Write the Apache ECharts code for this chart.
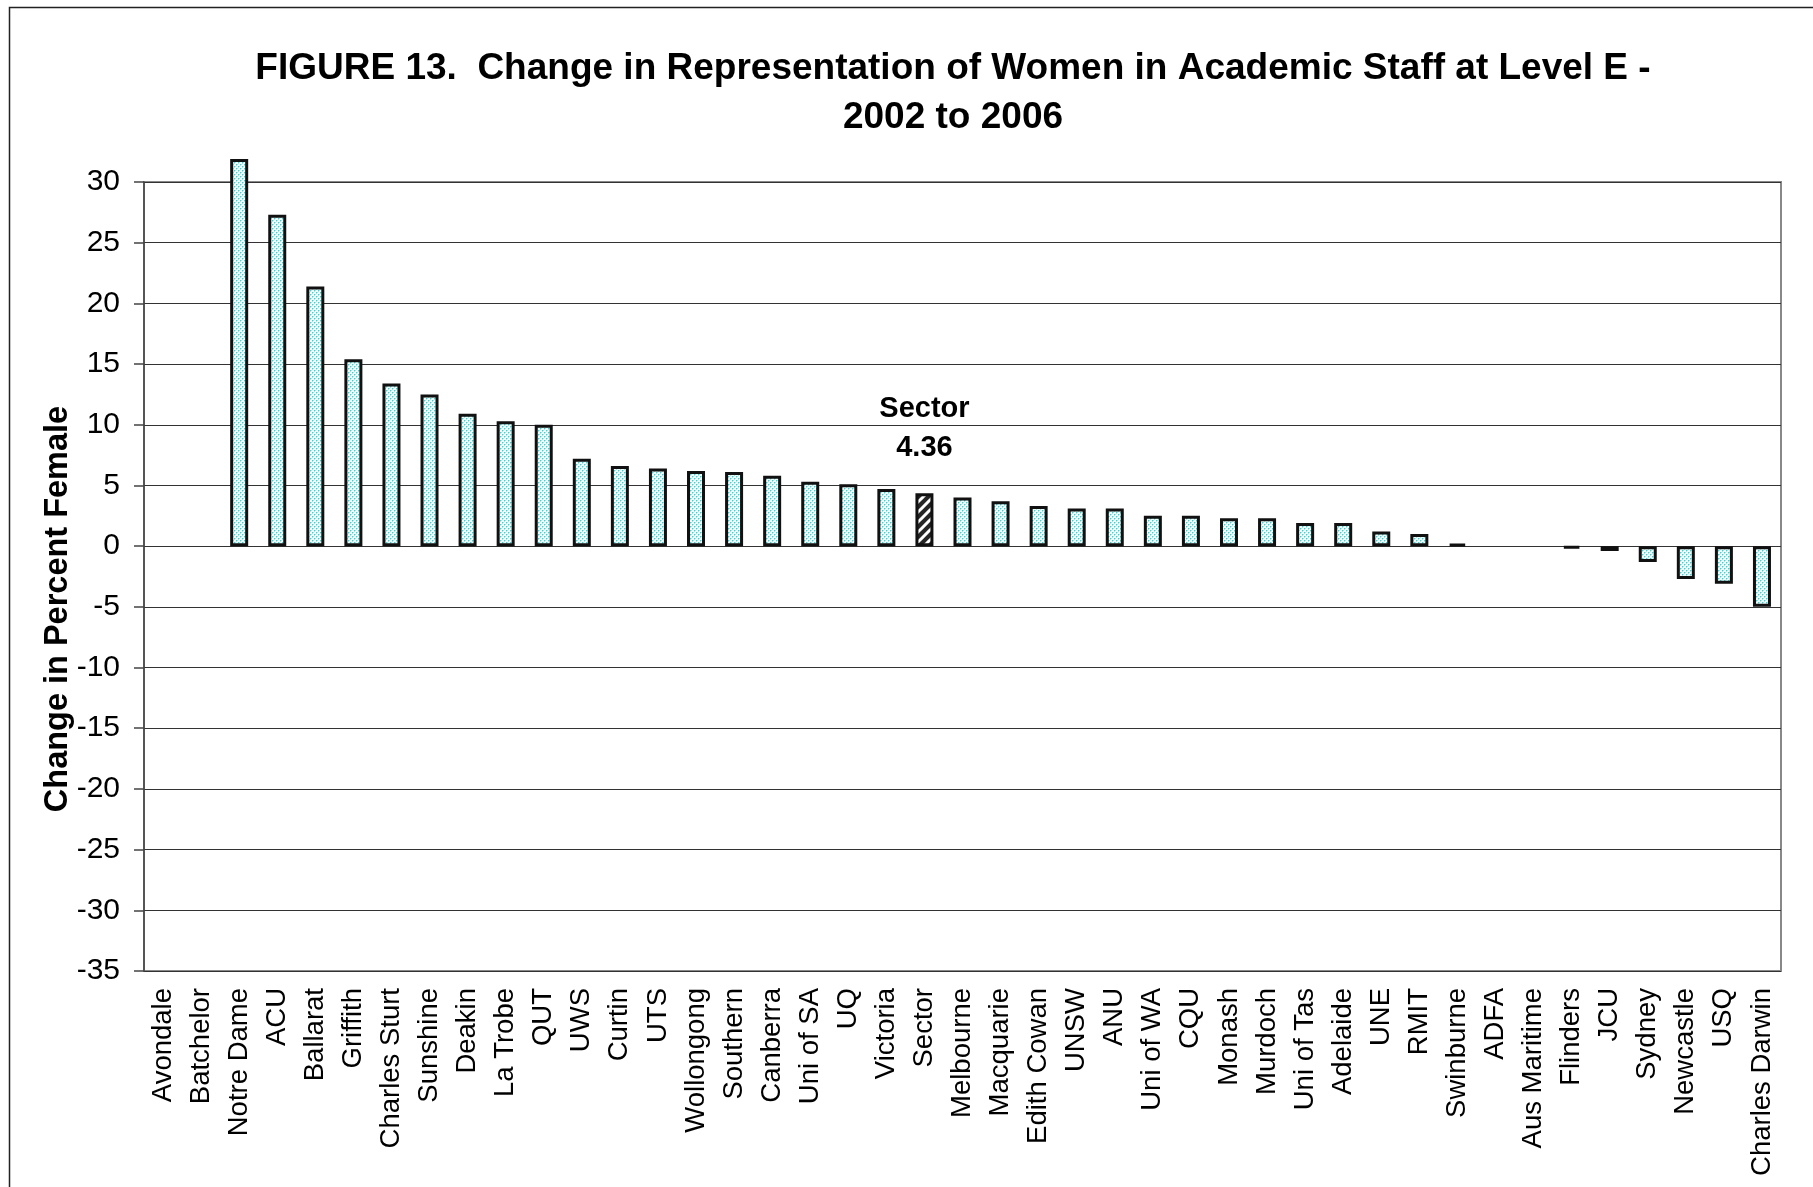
<!DOCTYPE html>
<html>
<head>
<meta charset="utf-8">
<script src="https://cdn.jsdelivr.net/npm/echarts@6/dist/echarts.min.js"></script>
<style>html,body{margin:0;padding:0;background:#fff;}#chart{width:1813px;height:1187px;}</style>
</head>
<body>
<div id="chart"></div>
<script>
const categories = ['Avondale','Batchelor','Notre Dame','ACU','Ballarat','Griffith','Charles Sturt','Sunshine','Deakin','La Trobe','QUT','UWS','Curtin','UTS','Wollongong','Southern','Canberra','Uni of SA','UQ','Victoria','Sector','Melbourne','Macquarie','Edith Cowan','UNSW','ANU','Uni of WA','CQU','Monash','Murdoch','Uni of Tas','Adelaide','UNE','RMIT','Swinburne','ADFA','Aus Maritime','Flinders','JCU','Sydney','Newcastle','USQ','Charles Darwin'];
const values = [null,null,31.9,27.3,21.4,15.4,13.4,12.5,10.9,10.3,10.0,7.2,6.6,6.4,6.2,6.1,5.8,5.3,5.1,4.7,4.36,4.0,3.7,3.3,3.1,3.1,2.5,2.5,2.3,2.3,1.9,1.9,1.2,1.0,0.2,null,null,-0.2,-0.4,-1.3,-2.7,-3.1,-5.0];
const highlightCategory = 'Sector';
const yTicks = {min: -35, max: 30, interval: 5};
const titleLines = ['FIGURE 13.  Change in Representation of Women in Academic Staff at Level E -', '2002 to 2006'];
const yAxisName = 'Change in Percent Female';

function dotPattern() {
  const c = document.createElement('canvas');
  c.width = 4; c.height = 4;
  const g = c.getContext('2d');
  g.fillStyle = '#effcfc'; g.fillRect(0,0,4,4);
  g.fillStyle = '#9fe9e9';
  g.fillRect(1,0,1,1); g.fillRect(0,1,1,1); g.fillRect(3,2,1,1); g.fillRect(2,3,1,1);
  g.fillStyle = '#3fd3d3';
  g.fillRect(0,0,1,1); g.fillRect(2,2,1,1);
  return c;
}
function stripePattern() {
  const c = document.createElement('canvas');
  c.width = 10; c.height = 10;
  const g = c.getContext('2d');
  g.fillStyle = '#262626'; g.fillRect(0,0,10,10);
  g.strokeStyle = '#ffffff'; g.lineWidth = 3;
  g.beginPath();
  g.moveTo(-2,12); g.lineTo(12,-2);
  g.moveTo(-7,7); g.lineTo(7,-7);
  g.moveTo(3,17); g.lineTo(17,3);
  g.stroke();
  return c;
}
const dotFill = {image: dotPattern(), repeat: 'repeat'};
const stripeFill = {image: stripePattern(), repeat: 'repeat'};

const seriesData = categories.map((name, i) => {
  const item = {value: values[i]};
  if (name === highlightCategory) {
    item.itemStyle = {color: stripeFill};
    item.label = {
      show: true, position: 'top', distance: 26,
      fontFamily: 'Liberation Sans', fontWeight: 'bold', fontSize: 29, color: '#000',
      lineHeight: 39,
      formatter: p => p.name + '\n' + p.value.toFixed(2)
    };
  }
  return item;
});

const chart = echarts.init(document.getElementById('chart'), null, {renderer: 'canvas'});
chart.setOption({
  animation: false,
  backgroundColor: '#fff',
  textStyle: {fontFamily: 'Liberation Sans'},
  title: {
    text: titleLines.join('\n'),
    left: 948, top: 39, textAlign: 'center',
    textStyle: {fontFamily: 'Liberation Sans', fontWeight: 'bold', fontSize: 37, lineHeight: 49, color: '#000'}
  },
  graphic: [
    {type: 'rect', shape: {x: 9.5, y: 7.5, width: 1900, height: 1300}, style: {fill: 'none', stroke: '#222', lineWidth: 1.5}, silent: true},
    {type: 'text', x: 58, y: 609, rotation: Math.PI/2, style: {text: yAxisName, fontFamily: 'Liberation Sans', fontWeight: 'bold', fontSize: 32.5, fill: '#000', align: 'center', verticalAlign: 'middle'}}
  ],
  grid: {left: 144, right: 32, top: 182, bottom: 216, show: true, borderColor: '#888', borderWidth: 2, containLabel: false},
  xAxis: {
    type: 'category', data: categories,
    axisLine: {show: false}, axisTick: {show: false},
    axisLabel: {interval: 0, rotate: 90, margin: 17, fontSize: 27.5, color: '#000', fontFamily: 'Liberation Sans'},
    splitLine: {show: false}
  },
  yAxis: {
    type: 'value', min: yTicks.min, max: yTicks.max, interval: yTicks.interval,
    axisLine: {show: true, lineStyle: {color: '#444', width: 1.5}},
    axisTick: {show: true, length: 10, lineStyle: {color: '#444', width: 1.5}},
    axisLabel: {margin: 24, fontSize: 30, color: '#000', fontFamily: 'Liberation Sans'},
    splitLine: {show: true, lineStyle: {color: '#333', width: 1.2}}
  },
  series: [{
    type: 'bar', data: seriesData, barWidth: 18, clip: false,
    itemStyle: {color: dotFill, borderColor: '#111', borderWidth: 3}
  }]
});
</script>
</body>
</html>
